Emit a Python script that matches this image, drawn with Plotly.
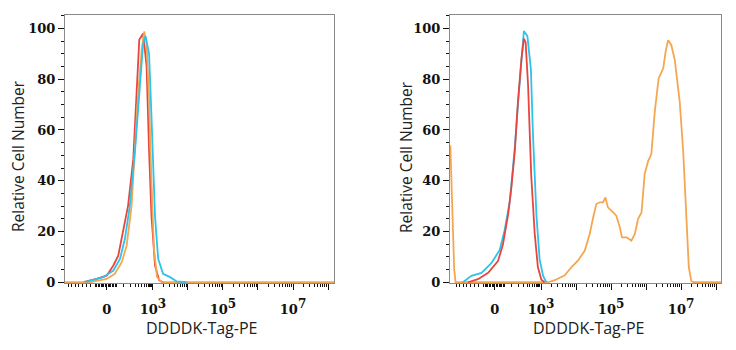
import plotly.graph_objects as go
import numpy as np

# ---------------- data (x in display units of a biexponential axis: 10^k -> k) ----------
left_red_x = [1.01, 1.39, 1.68, 1.87, 2.01, 2.15, 2.29, 2.44, 2.53, 2.61, 2.72, 2.82, 2.89, 2.96, 3.06, 3.18, 3.3]
left_red_y = [0, 1.3, 2.6, 6.6, 10.5, 19.7, 30.1, 48.5, 72, 95.5, 98, 85, 52, 26, 6.6, 0.7, 0]

left_orange_x = [0.49, 1.2, 1.68, 1.91, 2.11, 2.25, 2.39, 2.49, 2.58, 2.68, 2.75, 2.82, 2.89, 2.96, 3.03, 3.12, 3.25, 8.17]
left_orange_y = [0, 0, 1.3, 3.3, 7.9, 14.4, 30, 52, 74.7, 91.7, 98.8, 94, 72, 39, 13, 2, 0, 0]

left_cyan_x = [1.06, 1.29, 1.58, 1.87, 2.06, 2.2, 2.34, 2.49, 2.63, 2.72, 2.79, 2.89, 2.96, 3.06, 3.15, 3.29, 3.49, 3.68, 3.96]
left_cyan_y = [0, 0.8, 2, 4.6, 9.2, 17, 30, 52, 79, 94, 97, 90, 65, 26, 9.2, 3.3, 2, 0.3, 0]

right_orange_x = [0.41, 0.47, 0.52, 0.56, 3.2, 3.39, 3.68, 3.87, 4.06, 4.25, 4.39, 4.49, 4.58, 4.68, 4.77,
                  4.84, 4.91, 5.06, 5.15, 5.25, 5.31, 5.44, 5.58, 5.68, 5.77, 5.87, 5.96, 6.06, 6.15, 6.25,
                  6.36, 6.49, 6.56, 6.63, 6.72, 6.82, 6.96, 7.06, 7.15, 7.22, 7.29, 7.36, 8.14]
right_orange_y = [54, 30, 5, 0, 0, 0.8, 2.7, 6, 8.6, 12.5, 19, 25.6, 30.8, 31.5, 31.5,
                  33.4, 29.5, 27.5, 26.2, 21.7, 17.7, 17.7, 16.4, 19, 24.9, 27.5, 42.6, 47.8, 50.4, 67.4,
                  80.4, 84.3, 91, 95.4, 93.5, 87.6, 71.3, 51.7, 25.6, 6, 0.5, 0, 0]

right_red_x = [0.91, 1.2, 1.49, 1.77, 1.91, 2.06, 2.15, 2.25, 2.34, 2.44, 2.51, 2.56, 2.63, 2.72, 2.82, 2.91, 3.01, 3.1]
right_red_y = [0, 1.2, 3.7, 8.3, 14.8, 26.6, 37, 51.4, 71, 88, 96, 94.5, 77.6, 42, 19, 6, 1, 0]

right_cyan_x = [0.77, 1.01, 1.3, 1.58, 1.82, 1.96, 2.11, 2.25, 2.34, 2.44, 2.51, 2.61, 2.71, 2.77, 2.87, 2.96, 3.06, 3.15]
right_cyan_y = [0, 2.5, 3.7, 7.5, 12.7, 20.5, 32, 53, 70, 88, 99, 97, 84, 58, 26, 9, 2.5, 0]

x_tick_vals = [1.68, 3, 4, 5, 6, 7, 8]
x_tick_text = ["0",
               "10<sup><span style='font-size:12px'>3</span></sup>", "",
               "10<sup><span style='font-size:12px'>5</span></sup>", "",
               "10<sup><span style='font-size:12px'>7</span></sup>", ""]
y_tick_vals = [0, 20, 40, 60, 80, 100]
x_title = "DDDDK-Tag-PE"
y_title = "Relative Cell Number"

RED = "#e8453f"
ORANGE = "#f4a750"
CYAN = "#2cc3ec"

# minor ticks of the biexponential axis
minor_x = [0.58, 0.68, 0.78, 0.88, 0.98, 1.1, 1.22]
minor_x += list(np.round(np.arange(1.36, 1.98, 0.04), 3))
minor_x += [2.15, 2.35, 2.5, 2.6, 2.68, 2.75, 2.81, 2.86, 2.9, 2.94, 2.97]
for d in range(3, 8):
    for k in range(2, 10):
        minor_x.append(round(d + np.log10(k), 4))

fig = go.Figure()
fig.add_trace(go.Scatter(x=left_red_x, y=left_red_y, mode="lines", line=dict(color=RED, width=1.8), xaxis="x", yaxis="y"))
fig.add_trace(go.Scatter(x=left_orange_x, y=left_orange_y, mode="lines", line=dict(color=ORANGE, width=1.8), xaxis="x", yaxis="y"))
fig.add_trace(go.Scatter(x=left_cyan_x, y=left_cyan_y, mode="lines", line=dict(color=CYAN, width=1.8), xaxis="x", yaxis="y"))
fig.add_trace(go.Scatter(x=right_orange_x, y=right_orange_y, mode="lines", line=dict(color=ORANGE, width=1.8), xaxis="x2", yaxis="y2"))
fig.add_trace(go.Scatter(x=right_cyan_x, y=right_cyan_y, mode="lines", line=dict(color=CYAN, width=1.8), xaxis="x2", yaxis="y2"))
fig.add_trace(go.Scatter(x=right_red_x, y=right_red_y, mode="lines", line=dict(color=RED, width=1.8), xaxis="x2", yaxis="y2"))

tickfont = dict(family="DejaVu Serif", size=13, color="#111", weight="bold")

def xaxis(domain, rng, anchor):
    return dict(domain=domain, range=rng, anchor=anchor, showgrid=False, zeroline=False,
                showline=True, linecolor="#8a8a8a", linewidth=1, mirror=True,
                tickmode="array", tickvals=x_tick_vals, ticktext=x_tick_text,
                ticks="outside", ticklen=6, tickcolor="#111", tickwidth=1.3,
                tickfont=tickfont, ticklabelstandoff=8,
                minor=dict(tickmode="array", tickvals=minor_x, ticks="outside", ticklen=3,
                           tickcolor="#111", tickwidth=1),
                automargin=False)

def yaxis(domain, anchor):
    return dict(domain=domain, range=[-0.3, 105.3], anchor=anchor, showgrid=False, zeroline=False,
                showline=True, linecolor="#8a8a8a", linewidth=1, mirror=True,
                tickmode="array", tickvals=y_tick_vals,
                ticks="outside", ticklen=6, tickcolor="#111", tickwidth=1.3,
                tickfont=tickfont,
                minor=dict(dtick=5, ticks="outside", ticklen=3, tickcolor="#111", tickwidth=1),
                automargin=False)

ydom = [1 - 283 / 350, 1 - 15 / 350]
fig.update_layout(
    width=736, height=350, margin=dict(l=0, r=0, t=0, b=0),
    paper_bgcolor="white", plot_bgcolor="white", showlegend=False,
    xaxis=xaxis([65 / 736, 334 / 736], [0.49, 8.17], "y"),
    yaxis=yaxis(ydom, "x"),
    xaxis2=xaxis([450 / 736, 721 / 736], [0.40, 8.14], "y2"),
    yaxis2=yaxis(ydom, "x2"),
)

xtitlefont = dict(family="Open Sans", size=16, color="#222")
ytitlefont = dict(family="Open Sans", size=15.5, color="#222")
for cx, cy in [(201, 328), (588, 328)]:
    fig.add_annotation(text=x_title, x=cx / 736, y=1 - cy / 350, xref="paper", yref="paper",
                       showarrow=False, font=xtitlefont, xanchor="center", yanchor="middle")
for cx, cy in [(18, 156), (406, 157)]:
    fig.add_annotation(text=y_title, x=cx / 736, y=1 - cy / 350, xref="paper", yref="paper",
                       showarrow=False, font=ytitlefont, xanchor="center", yanchor="middle", textangle=-90)

fig.write_html("out.html")
